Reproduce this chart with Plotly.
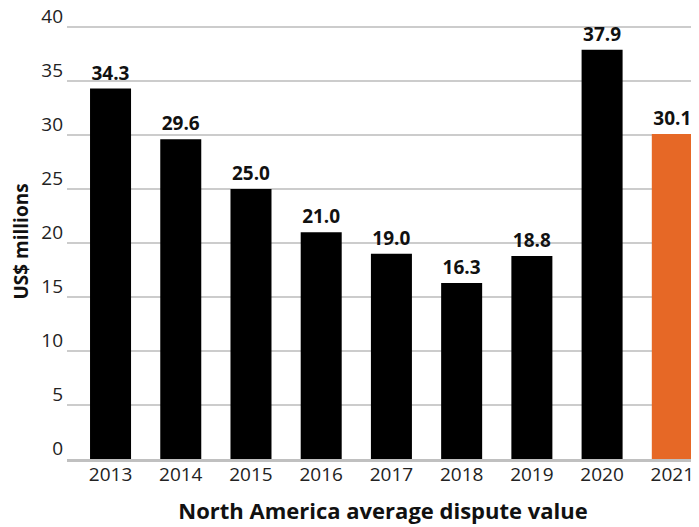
import plotly.graph_objects as go

years = ["2013", "2014", "2015", "2016", "2017", "2018", "2019", "2020", "2021"]
values = [34.3, 29.6, 25.0, 21.0, 19.0, 16.3, 18.8, 37.9, 30.1]
colors = ["#000000"] * 8 + ["#E66826"]
labels = [f"{v:.1f}" for v in values]
tick_vals = [0, 5, 10, 15, 20, 25, 30, 35, 40]

fig = go.Figure(go.Bar(
    x=years, y=values, marker=dict(color=colors, line=dict(width=0)),
    text=labels, textposition="outside", cliponaxis=False,
    textfont=dict(family="Open Sans", size=19, color="#111111", weight="bold"),
))
# the page body adds an 8px offset, so the figure is sized to fit the window
fig.update_layout(
    width=691, height=519,
    margin=dict(l=59, r=0, t=16, b=68),
    paper_bgcolor="white", plot_bgcolor="white",
    bargap=0.416, showlegend=False, uniformtext=dict(minsize=19, mode="show"),
    font=dict(family="Open Sans", color="#222222"),
    xaxis=dict(
        automargin=False, range=[-0.62, 8.38],
        title=dict(text="<b>North America average dispute value</b>", font=dict(size=22, color="#111111"), standoff=18),
        tickfont=dict(size=19, color="#222222"), showline=True, linecolor="#c0c0c0", linewidth=3,
        ticks="", ticklen=0, showgrid=False, ticklabelstandoff=-4,
    ),
    yaxis=dict(
        automargin=False,
        title=dict(text="<b>US$ millions</b>", font=dict(size=19, color="#111111"), standoff=14),
        range=[0, 40.28], tickvals=tick_vals, tickfont=dict(size=19, color="#222222"),
        showgrid=True, gridcolor="#cccccc", gridwidth=1.5, zeroline=False,
        ticks="", ticklen=0, ticklabelstandoff=3, ticklabelshift=-11,
        ticklabeloverflow="allow",
    ),
)
fig.write_html("out.html")
